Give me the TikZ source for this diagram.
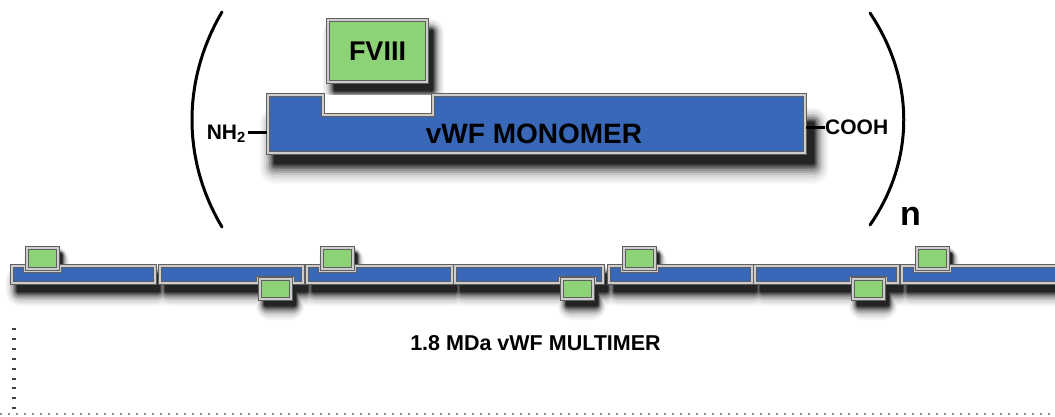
\documentclass[tikz,border=0pt]{standalone}
\usepackage{fontspec}
\setmainfont{Liberation Sans}
\definecolor{vwfblue}{RGB}{58,104,184}
\definecolor{fvgreen}{RGB}{142,210,120}
\definecolor{framelight}{RGB}{205,205,205}
\definecolor{framedark}{RGB}{95,95,95}
\tikzset{
  frame/.style={draw=framedark, double=framelight, double distance=2.4pt, line width=0.8pt, line join=miter},
  mono/.style={frame, fill=vwfblue},
  fvbig/.style={frame, fill=fvgreen},
  seg/.style={frame, fill=vwfblue},
  fvsmall/.style={frame, fill=fvgreen},
  paren/.style={line width=3pt, line cap=round},
  dashline/.style={line width=3pt},
  lbl/.style={inner sep=0pt, font=\bfseries},
}
\begin{document}
\begin{tikzpicture}[x=1pt, y=-1pt]
\useasboundingbox (0,0) rectangle (1055,416);
\fill[white] (0,0) rectangle (1055,416);
\begin{scope}
\clip (0,0) rectangle (1055,416);
% soft shadows, ring by ring from the outside in
\foreach \g/\pp in {14/4,12/9,10/15,8/23,6.5/32,5/42,3.5/53,2.5/63,1.5/72,0.5/80,0/86}{
  \fill[black!\pp, rounded corners=\g pt+1pt] (274-\g,122-\g) rectangle (814+\g,164+1.4*\g);
  \fill[black!\pp, rounded corners=\g pt+1pt] (334-0.8*\g,30-0.8*\g) rectangle (433+0.8*\g,91+0.9*\g);
  \foreach \L/\W in {12/143, 307/145, 609/143, 902/170, 160/143, 455/148, 755/143}{
    \fill[black!\pp, rounded corners=\g pt+1pt] (\L+5-0.8*\g,274-0.6*\g) rectangle (\L+\W+5+0.8*\g,292+\g);
  }
  \foreach \L in {12, 307, 609, 902}{
    \fill[black!\pp, rounded corners=\g pt+1pt] (\L+19-0.5*\g,253-0.5*\g) rectangle (\L+50+0.5*\g,273+0.5*\g);
  }
  \foreach \L/\a in {160/100, 455/107, 755/98}{
    \fill[black!\pp, rounded corners=\g pt+1pt] (\L+\a+4-0.6*\g,287-0.6*\g) rectangle (\L+\a+36+0.6*\g,306+\g);
  }
}
\end{scope}

% parentheses
\draw[paren] (222,12) .. controls (182,80) and (182,160) .. (222,227);
\draw[paren] (870,13) .. controls (915,80) and (915,160) .. (870,225);
\node[lbl, anchor=base west, font=\fontsize{34}{36}\selectfont\bfseries] (nlab) at (900,225) {n};

% monomer
\fill[white] (323,95) rectangle (433,115);
\path[mono] (268,95) -- (323,95) -- (323,115) -- (433,115) -- (433,95) -- (805,95) -- (805,153) -- (268,153) -- cycle;
\path[fvbig] (328,20) rectangle (427,82);
\node[lbl, font=\fontsize{27}{29}\selectfont\bfseries] (fvtext) at (377.5,51) {FVIII};
\node[lbl, font=\fontsize{28}{30}\selectfont\bfseries] (montext) at (534,134) {vWF MONOMER};

\coordinate (boxL) at (267,132);
\coordinate (boxR) at (806,127);
\node[lbl, anchor=base east, font=\fontsize{21}{23}\selectfont\bfseries] (nh2) at (246,139) {NH\textsubscript{2}};
\draw[dashline] (nh2.east |- boxL) ++(1.5,0) -- (boxL);
\node[lbl, anchor=west, font=\fontsize{21}{23}\selectfont\bfseries] (cooh) at (825,127) {COOH};
\draw[dashline] (boxR) -- (cooh.west);

% multimer: segments with FVIII on top
\begin{scope}
\clip (0,0) rectangle (1055,416);
\foreach \L/\W in {12/143, 307/145, 609/143, 902/170}{
  \path[seg] (\L,266) -- ({\L+13},266) -- ({\L+13},271) -- ({\L+48},271) -- ({\L+48},266) -- ({\L+\W},266) -- ({\L+\W},283) -- (\L,283) -- cycle;
}
% segments with FVIII below
\foreach \L/\W/\a in {160/143/100, 455/148/107, 755/143/98}{
  \path[seg] (\L,266) -- ({\L+\W},266) -- ({\L+\W},283) -- ({\L+\a+33},283) -- ({\L+\a+33},278) -- ({\L+\a-2},278) -- ({\L+\a-2},283) -- (\L,283) -- cycle;
}
\end{scope}
\foreach \L in {12, 307, 609, 902}{
  \path[fvsmall] ({\L+15},248) rectangle ({\L+46},269);
}
\foreach \L/\a in {160/100, 455/107, 755/98}{
  \path[fvsmall] ({\L+\a},279) rectangle ({\L+\a+31},299);
}

\node[lbl, font=\fontsize{21.5}{23}\selectfont\bfseries] (multtext) at (535.5,343) {1.8 MDa vWF MULTIMER};

% dotted frame lines
\coordinate (vtop) at (14,328);
\coordinate (vbot) at (14,409);
\draw[black!75, line width=4pt, dash pattern=on 2pt off 7.9pt] (vtop) -- (vbot);
\coordinate (hleft) at (0,414);
\coordinate (hright) at (1055,414);
\draw[black!45, line width=1.6pt, dash pattern=on 1.6pt off 6.4pt] (hleft) -- (hright);
\end{tikzpicture}
\end{document}
